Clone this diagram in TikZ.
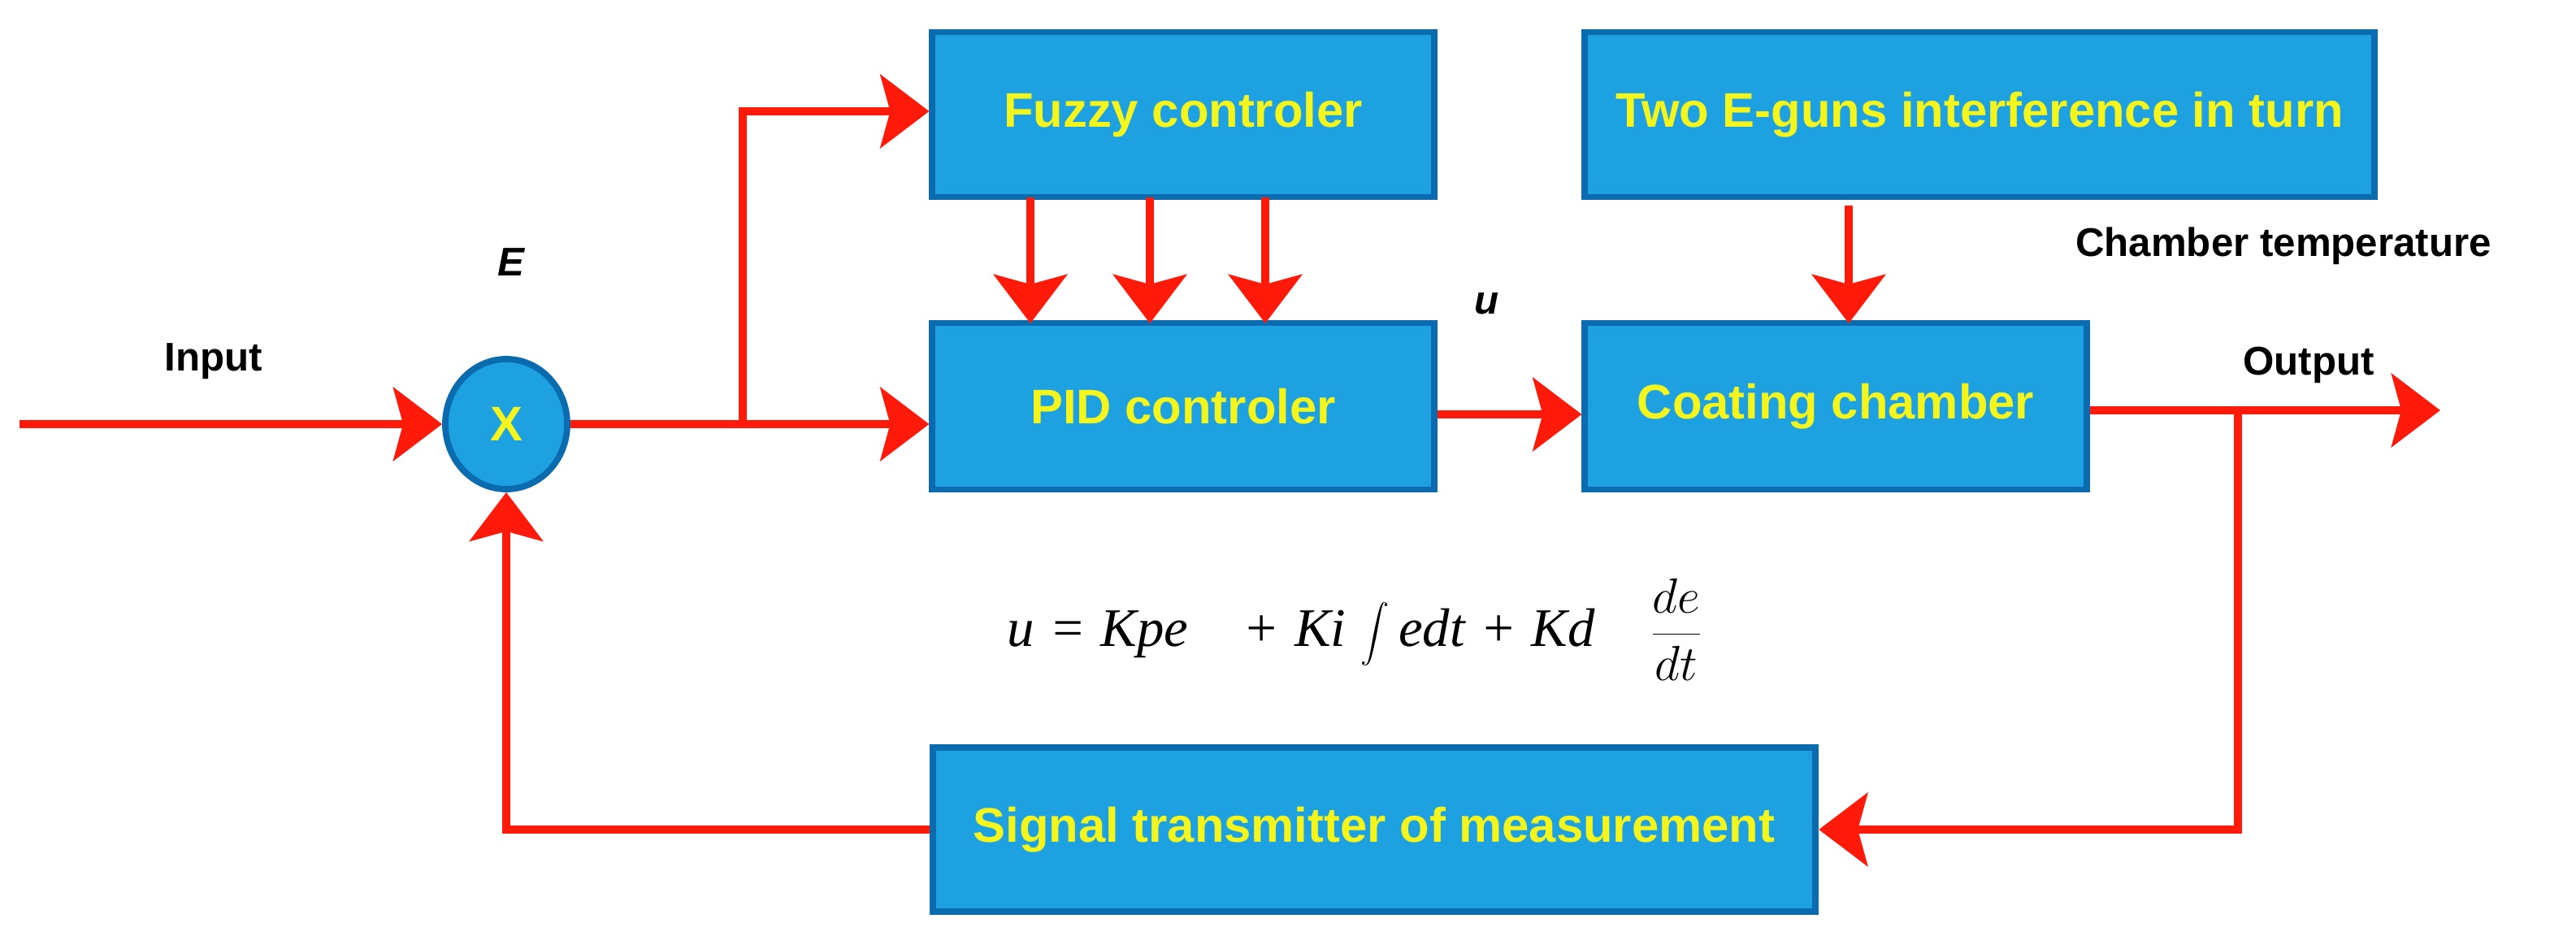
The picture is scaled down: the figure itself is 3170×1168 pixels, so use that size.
\documentclass[tikz,border=0pt]{standalone}
\usepackage{fontspec}
\setmainfont{Liberation Sans}
\newfontfamily\tms{Liberation Serif}
\usetikzlibrary{arrows.meta,shapes.geometric}
\definecolor{boxf}{HTML}{1DA1E0}
\definecolor{boxd}{HTML}{0A6BAE}
\definecolor{arr}{HTML}{FF1A0A}
\definecolor{ylw}{HTML}{F5F51E}
\begin{document}
\begin{tikzpicture}[x=0.01cm,y=-0.01cm,
 blk/.style={draw=boxd,line width=2.2pt,fill=boxf,inner sep=0pt,text=ylw,font=\bfseries\fontsize{17}{20}\selectfont},
 lbl/.style={font=\bfseries\fontsize{14}{17}\selectfont,text=black},
 ar/.style={draw=arr,line width=3pt,-{Stealth[length=6mm,width=9mm,inset=1.2mm]}},
 ln/.style={draw=arr,line width=3pt}]
\useasboundingbox (0,0) rectangle (3170,1168);
\node[blk,minimum width=6.17cm,minimum height=2.03cm] (fz) at (1456,141) {Fuzzy controler};
\node[blk,minimum width=6.17cm,minimum height=2.05cm] (pid) at (1456,500) {PID controler};
\node[blk,minimum width=9.71cm,minimum height=2.03cm] (eg) at (2436,141) {Two E-guns interference in turn};
\node[blk,minimum width=6.17cm,minimum height=2.05cm] (cc) at (2259,500) {Coating chamber};
\node[blk,minimum width=10.86cm,minimum height=2.02cm] (sg) at (1691,1021) {Signal transmitter of measurement};
\node[blk,ellipse,minimum width=1.5cm,minimum height=1.6cm] (x) at (623,522) {X};
\node[lbl] at (263,445) {Input};
\node[lbl,font=\bfseries\itshape\fontsize{14}{17}\selectfont] at (629,323) {E};
\node[lbl,font=\bfseries\itshape\fontsize{14}{17}\selectfont] at (1830,374) {u};
\node[lbl] at (2810,303) {Chamber temperature};
\node[lbl] at (2841,449) {Output};
\node[font=\tms\itshape\fontsize{19}{22}\selectfont] (eq) at (1668,775) {u\;=\;Kpe\quad+\;Ki\;$\displaystyle\int$\,edt\;+\;Kd\quad$\displaystyle\frac{de}{dt}$};
\coordinate (in) at (24,522);
\coordinate (br) at (914,522);
\coordinate (top) at (914,137);
\coordinate (out) at (3003,505);
\coordinate (fb) at (2754,505);
\coordinate (fb2) at (2754,1021);
\draw[ar] (in) -- (x.west);
\draw[ln] (x.east) -- (br);
\draw[ar] (br) -- (br -| pid.west);
\draw[ar] (br) -- (top) -- (top -| fz.west);
\foreach \xx in {1268,1415,1557} \draw[ar] (\xx,243) -- (\xx,398);
\draw[ar] (pid.east |- 0,510) -- (cc.west |- 0,510);
\draw[ar] (2275,253) -- (2275,398);
\draw[ar] (cc.east |- out) -- (out);
\draw[ar] (fb) -- (fb2) -- (sg.east);
\draw[ar] (sg.west) -- (sg.west -| x.south) -- (x.south);
\end{tikzpicture}
\end{document}
